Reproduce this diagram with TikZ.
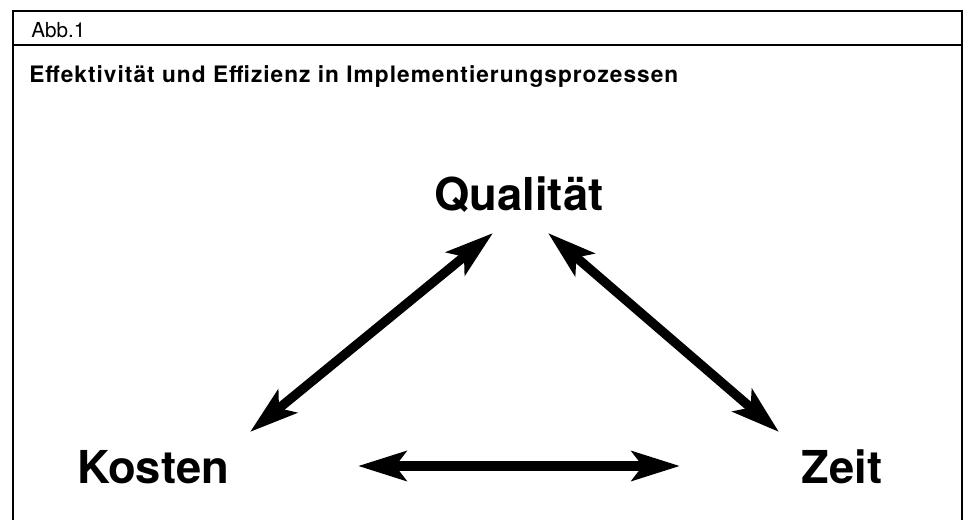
\documentclass[tikz,border=0pt]{standalone}
\usepackage{fontspec}
\setmainfont{TeX Gyre Heros}
\usetikzlibrary{arrows.meta,positioning}

\begin{document}
\begin{tikzpicture}[x=0.75pt,y=-0.75pt,
    >={Stealth[length=36pt,width=22pt,inset=8pt]},
    ecke/.style={font=\bfseries\fontsize{34}{40}\selectfont, inner sep=0pt, anchor=base},
    kopf/.style={inner sep=0pt, anchor=base west},
    pfeil/.style={<->, line width=7pt}]
    \useasboundingbox (0,0) rectangle (969,520);

    % Rahmen
    \draw[line width=1pt] (13,520) -- (13,11) -- (962,11) -- (962,520);
    \draw[line width=1pt] (13,45) -- (962,45);
    \node[kopf, font=\fontsize{15.5}{18}\selectfont] (abb) at (31,38) {Abb.1};
    \node[kopf, font=\bfseries\fontsize{17}{20}\selectfont\addfontfeatures{LetterSpace=4.5}]
        (titel) at (29,83) {Effektivität und Effizienz in Implementierungsprozessen};

    \node[ecke] (qual)   at (519,210) {Qualität};
    \node[ecke] (kosten) at (153,483) {Kosten};
    \node[ecke] (zeit)   at (842,483) {Zeit};

    \coordinate (kq) at (250,432);
    \coordinate (qk) at (493,233);
    \coordinate (qz) at (548,233);
    \coordinate (zq) at (779,432);
    \coordinate (kz) at (358,466);
    \coordinate (zk) at (680,466);

    \path[pfeil]
    (kq) edge (qk)
    (qz) edge (zq)
    (kz) edge (zk)
    ;
\end{tikzpicture}
\end{document}
